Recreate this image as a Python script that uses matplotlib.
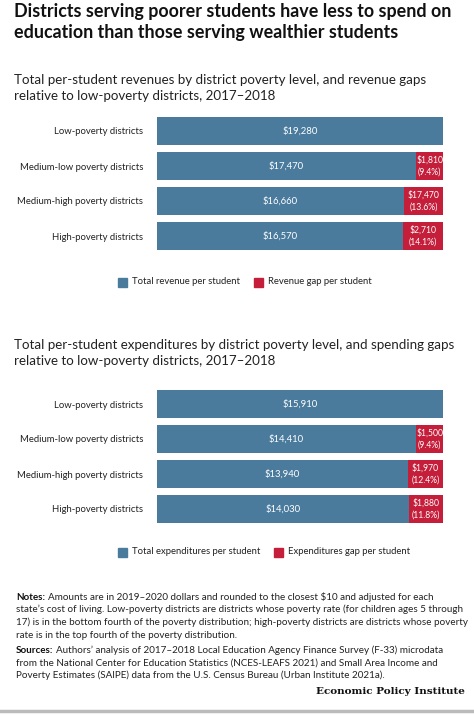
import matplotlib
matplotlib.use("Agg")
import matplotlib.pyplot as plt

plt.rcParams['font.family'] = ['Lato', 'DejaVu Sans']

categories = ["Low-poverty districts", "Medium-low poverty districts",
              "Medium-high poverty districts", "High-poverty districts"]
rev_values = [19280, 17470, 16660, 16570]
rev_gaps = [0, 1810, 2620, 2710]
rev_gap_labels = ["", "$1,810\n(9.4%)", "$17,470\n(13.6%)", "$2,710\n(14.1%)"]
exp_values = [15910, 14410, 13940, 14030]
exp_gaps = [0, 1500, 1970, 1880]
exp_gap_labels = ["", "$1,500\n(9.4%)", "$1,970\n(12.4%)", "$1,880\n(11.8%)"]

BLUE = "#4a7b9d"
RED = "#c41e3a"
W, H = 474, 725
fig = plt.figure(figsize=(W/100, H/100), dpi=100)

def fy(px):
    return 1 - px / H

fig.text(14/W, fy(22), "Districts serving poorer students have less to spend on\neducation than those serving wealthier students",
         fontsize=12.9, fontweight='bold', va='center', ha='left', color='#111', linespacing=1.22)
fig.text(14/W, fy(88), "Total per-student revenues by district poverty level, and revenue gaps\nrelative to low-poverty districts, 2017\u20132018",
         fontsize=9.6, va='center', ha='left', color='#222', linespacing=1.35)
fig.text(14/W, fy(353), "Total per-student expenditures by district poverty level, and spending gaps\nrelative to low-poverty districts, 2017\u20132018",
         fontsize=9.6, va='center', ha='left', color='#222', linespacing=1.35)

def panel(top_px, vals, gaps, gap_labels, leg1, leg2, leg_y, leg2_x):
    ax = fig.add_axes([157/W, fy(top_px + 133), 286/W, 133/H])
    y = list(range(len(categories)))
    ax.barh(y, vals, height=0.8, color=BLUE)
    ax.barh(y, gaps, left=vals, height=0.8, color=RED)
    for i, v in enumerate(vals):
        ax.text(v / 2, i, f"${v:,}", ha='center', va='center', color='white', fontsize=6.8)
        if gaps[i]:
            ax.text(v + gaps[i] / 2, i, gap_labels[i], ha='center', va='center', color='white',
                    fontsize=6.2, linespacing=1.35)
    ax.set_xlim(0, vals[0] + gaps[0])
    ax.set_ylim(len(categories) - 0.6, -0.4)
    ax.set_yticks(y)
    ax.set_yticklabels(categories, fontsize=6.8, color='#222')
    ax.tick_params(axis='y', length=0, pad=10)
    ax.set_xticks([])
    for s in ax.spines.values():
        s.set_visible(False)
    fig.patches.append(matplotlib.patches.Rectangle((118/W, fy(leg_y + 4.5)), 9/W, 9/H,
                       transform=fig.transFigure, color=BLUE))
    fig.text(132/W, fy(leg_y), leg1, fontsize=6.8, va='center', color='#222')
    fig.patches.append(matplotlib.patches.Rectangle((leg2_x/W, fy(leg_y + 4.5)), 9/W, 9/H,
                       transform=fig.transFigure, color=RED))
    fig.text((leg2_x + 14)/W, fy(leg_y), leg2, fontsize=6.8, va='center', color='#222')

panel(117, rev_values, rev_gaps, rev_gap_labels, "Total revenue per student", "Revenue gap per student", 282, 254)
panel(390, exp_values, exp_gaps, exp_gap_labels, "Total expenditures per student", "Expenditures gap per student", 552, 274)

renderer = fig.canvas.get_renderer()
NOTE_FS = 7.1
LS = 12.5

def block(top_px, head, lines):
    t = fig.text(16/W, fy(top_px), head, fontsize=NOTE_FS, fontweight='bold', va='baseline', ha='left', color='#111')
    wpx = t.get_window_extent(renderer).width
    fig.text((16 + wpx + 3)/W, fy(top_px), lines[0], fontsize=NOTE_FS, va='baseline', ha='left', color='#222')
    for k, ln in enumerate(lines[1:], 1):
        fig.text(16/W, fy(top_px + k*LS), ln, fontsize=NOTE_FS, va='baseline', ha='left', color='#222')

block(600, "Notes:", ["Amounts are in 2019\u20132020 dollars and rounded to the closest $10 and adjusted for each",
                      "state\u2019s cost of living. Low-poverty districts are districts whose poverty rate (for children ages 5 through",
                      "17) is in the bottom fourth of the poverty distribution; high-poverty districts are districts whose poverty",
                      "rate is in the top fourth of the poverty distribution."])
block(653, "Sources:", ["Authors\u2019 analysis of 2017\u20132018 Local Education Agency Finance Survey (F-33) microdata",
                        "from the National Center for Education Statistics (NCES-LEAFS 2021) and Small Area Income and",
                        "Poverty Estimates (SAIPE) data from the U.S. Census Bureau (Urban Institute 2021a)."])
fig.text(465/W, fy(692), "Economic Policy Institute", fontsize=7.5, fontweight='bold',
         family=['DejaVu Serif'], ha='right', va='center', color='#111')
fig.add_artist(matplotlib.lines.Line2D([0, 1], [fy(711), fy(711)], color='#bbbbbb', lw=2.5))

fig.savefig("out.png", dpi=100, facecolor='white')
